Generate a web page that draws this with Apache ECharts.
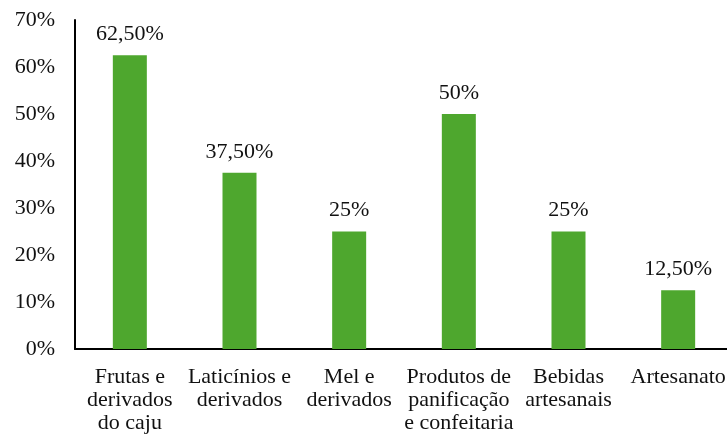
<!DOCTYPE html>
<html><head><meta charset="utf-8">
<script src="https://cdn.jsdelivr.net/npm/echarts@6/dist/echarts.min.js"></script>
<style>html,body{margin:0;padding:0;background:#fff}#c{width:727px;height:434px}</style>
</head><body><div id="c"></div>
<script>
const categories = ["Frutas e\nderivados\ndo caju", "Laticínios e\nderivados", "Mel e\nderivados", "Produtos de\npanificação\ne confeitaria", "Bebidas\nartesanais", "Artesanato"];
const values = [62.5, 37.5, 25, 50, 25, 12.5];
const valueLabels = ["62,50%", "37,50%", "25%", "50%", "25%", "12,50%"];
const yTicks = [0, 10, 20, 30, 40, 50, 60, 70];

const font = "'Liberation Serif', 'Times New Roman', serif";
const chart = echarts.init(document.getElementById('c'));
chart.setOption({
  animation: false,
  grid: {left: 75, right: -6, top: 20, bottom: 85, outerBoundsMode: 'none', containLabel: false},
  xAxis: {
    type: 'category', data: categories,
    axisLine: {lineStyle: {color: '#000', width: 2}},
    axisTick: {show: false},
    axisLabel: {fontFamily: font, fontSize: 22, color: '#111', lineHeight: 23, margin: 17, interval: 0}
  },
  yAxis: {
    type: 'value', min: 0, max: 70, interval: 10,
    axisLine: {show: true, lineStyle: {color: '#000', width: 2}},
    axisTick: {show: false},
    splitLine: {show: false},
    axisLabel: {fontFamily: font, fontSize: 22, color: '#111', margin: 20, formatter: v => yTicks.includes(v) ? v + '%' : ''}
  },
  series: [{
    type: 'bar', data: values, barWidth: 34,
    itemStyle: {color: '#4ea72e'},
    label: {show: true, position: 'top', distance: 10, fontFamily: font, fontSize: 22, color: '#111',
      formatter: p => valueLabels[p.dataIndex]}
  }]
});
</script></body></html>
